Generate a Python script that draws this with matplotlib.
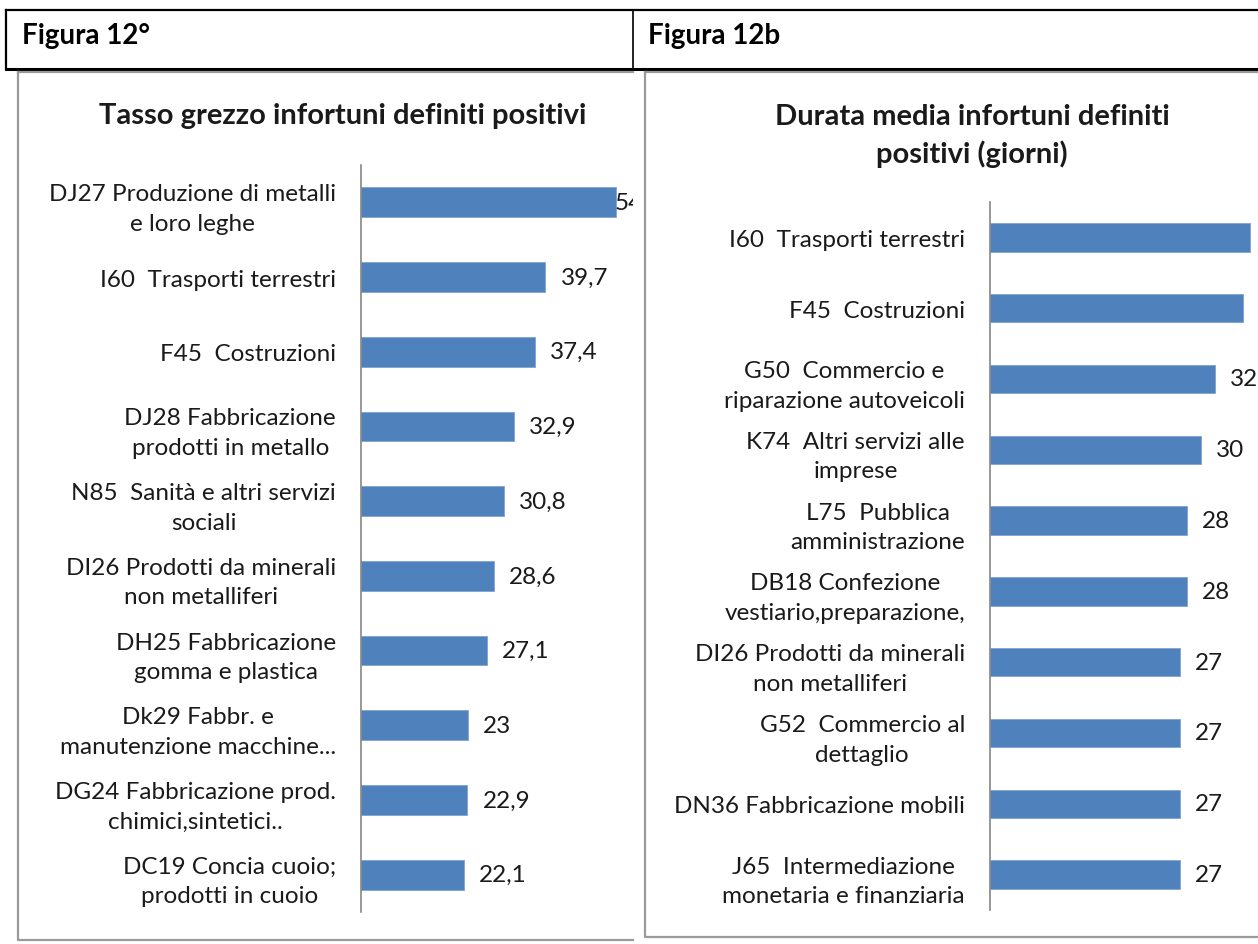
#--------------------------------------------
# Figura 12a / 12b: infortuni definiti positivi per settore
#--------------------------------------------
import matplotlib
matplotlib.use('Agg')
import matplotlib.pyplot as plt
from matplotlib.lines import Line2D

W, H = 1258, 945
plt.rcParams['font.family'] = ['Lato', 'DejaVu Sans']

# Figura 12a - tasso grezzo
settori_a = [
    "DJ27 Produzione di metalli\ne loro leghe",
    "I60  Trasporti terrestri",
    "F45  Costruzioni",
    "DJ28 Fabbricazione\nprodotti in metallo",
    "N85  Sanità e altri servizi\nsociali",
    "DI26 Prodotti da minerali\nnon metalliferi",
    "DH25 Fabbricazione\ngomma e plastica",
    "Dk29 Fabbr. e\nmanutenzione macchine...",
    "DG24 Fabbricazione prod.\nchimici,sintetici..",
    "DC19 Concia cuoio;\nprodotti in cuoio",
]
tasso_a = [54.9, 39.7, 37.4, 32.9, 30.8, 28.6, 27.1, 23.0, 22.9, 22.1]

# Figura 12b - durata media (giorni)
settori_b = [
    "I60  Trasporti terrestri",
    "F45  Costruzioni",
    "G50  Commercio e\nriparazione autoveicoli",
    "K74  Altri servizi alle\nimprese",
    "L75  Pubblica\namministrazione",
    "DB18 Confezione\nvestiario,preparazione,",
    "DI26 Prodotti da minerali\nnon metalliferi",
    "G52  Commercio al\ndettaglio",
    "DN36 Fabbricazione mobili",
    "J65  Intermediazione\nmonetaria e finanziaria",
]
durata_b = [37, 36, 32, 30, 28, 28, 27, 27, 27, 27]

BAR_COLOR = '#4F81BD'
AXIS_GRAY = '#868686'
TXT = '#1a1a1a'
FS = 17.5


def px_axes(fig, left, top, right, bottom):
    """axes placed by pixel box (origin top-left)"""
    return fig.add_axes([left / W, 1 - bottom / H, (right - left) / W, (bottom - top) / H])


def px_line(fig, xs, ys, **kw):
    fig.add_artist(Line2D([x / W for x in xs], [1 - y / H for y in ys],
                          transform=fig.transFigure, **kw))


def fmt_it(v):
    if float(v).is_integer():
        return str(int(v))
    return f"{v:.1f}".replace('.', ',')


def bar_panel(ax, labels, values, px_per_unit, width_px, label_room):
    y = list(range(len(values)))
    ax.barh(y, values, height=0.4, color=BAR_COLOR, edgecolor='#7FA3D0', linewidth=0.6)
    ax.set_xlim(0, width_px / px_per_unit)
    ax.set_ylim(len(values) - 0.5, -0.5)
    for s in ['top', 'right', 'bottom']:
        ax.spines[s].set_visible(False)
    ax.spines['left'].set_color(AXIS_GRAY)
    ax.spines['left'].set_linewidth(1.2)
    ax.set_xticks([])
    ax.set_yticks(y)
    ax.set_yticklabels(labels, fontsize=FS, color=TXT, linespacing=1.5)
    ax.tick_params(axis='y', length=0, pad=18)
    for lbl in ax.get_yticklabels():
        lbl.set_multialignment('center')

    # etichette valore: 15 px dopo la barra; se non c'è spazio, a ridosso della barra
    for yi, v in zip(y, values):
        end_px = v * px_per_unit
        if end_px + 15 > width_px:
            continue  # fuori dall'area visibile
        dx = 11 if end_px + 15 < label_room else -1
        ax.annotate(fmt_it(v), (v, yi), xytext=(dx, 0), textcoords='offset points',
                    ha='left', va='center', fontsize=FS, color=TXT,
                    annotation_clip=False, clip_on=True)
    ax.patch.set_alpha(0)


def main():
    fig = plt.figure(figsize=(W / 100, H / 100), dpi=100)

    # intestazione tabella
    px_line(fig, [6, W], [11, 11], color='black', lw=1.6)
    px_line(fig, [6, W], [70, 70], color='black', lw=2.2)
    px_line(fig, [6, 6], [11, 70], color='black', lw=1.6)
    px_line(fig, [633, 633], [11, 70], color='black', lw=1.2)
    fig.text(22 / W, 1 - 36 / H, "Figura 12°", fontsize=20, fontweight='bold', va='center')
    fig.text(648 / W, 1 - 36 / H, "Figura 12b", fontsize=20, fontweight='bold', va='center')

    # cornici grigie dei due grafici
    px_line(fig, [18, 18, 633], [73, 941, 941], color='#9a9a9a', lw=1.6)
    px_line(fig, [18, 633], [73, 73], color='#9a9a9a', lw=1.6)
    px_line(fig, [645, 645, W], [73, 938, 938], color='#9a9a9a', lw=1.6)
    px_line(fig, [645, W], [73, 73], color='#9a9a9a', lw=1.6)

    # titoli
    fig.text(343 / W, 1 - 116 / H, "Tasso grezzo infortuni definiti positivi",
             fontsize=21, fontweight='bold', color=TXT, ha='center', va='center')
    fig.text(972 / W, 1 - 136 / H, "Durata media infortuni definiti\npositivi (giorni)",
             fontsize=21, fontweight='bold', color=TXT, ha='center', va='center',
             linespacing=1.45)

    # grafico a sinistra: 4.64 px per unità
    ax_a = px_axes(fig, 361, 166, 633, 913)
    bar_panel(ax_a, settori_a, tasso_a, 4.64, 633 - 361, label_room=600 - 361)

    # grafico a destra: 7.03 px per unità
    ax_b = px_axes(fig, 990, 203, W, 911)
    bar_panel(ax_b, settori_b, durata_b, 7.03, W - 990, label_room=W - 990)

    fig.savefig('out.png', dpi=100)


if __name__ == '__main__':
    main()
